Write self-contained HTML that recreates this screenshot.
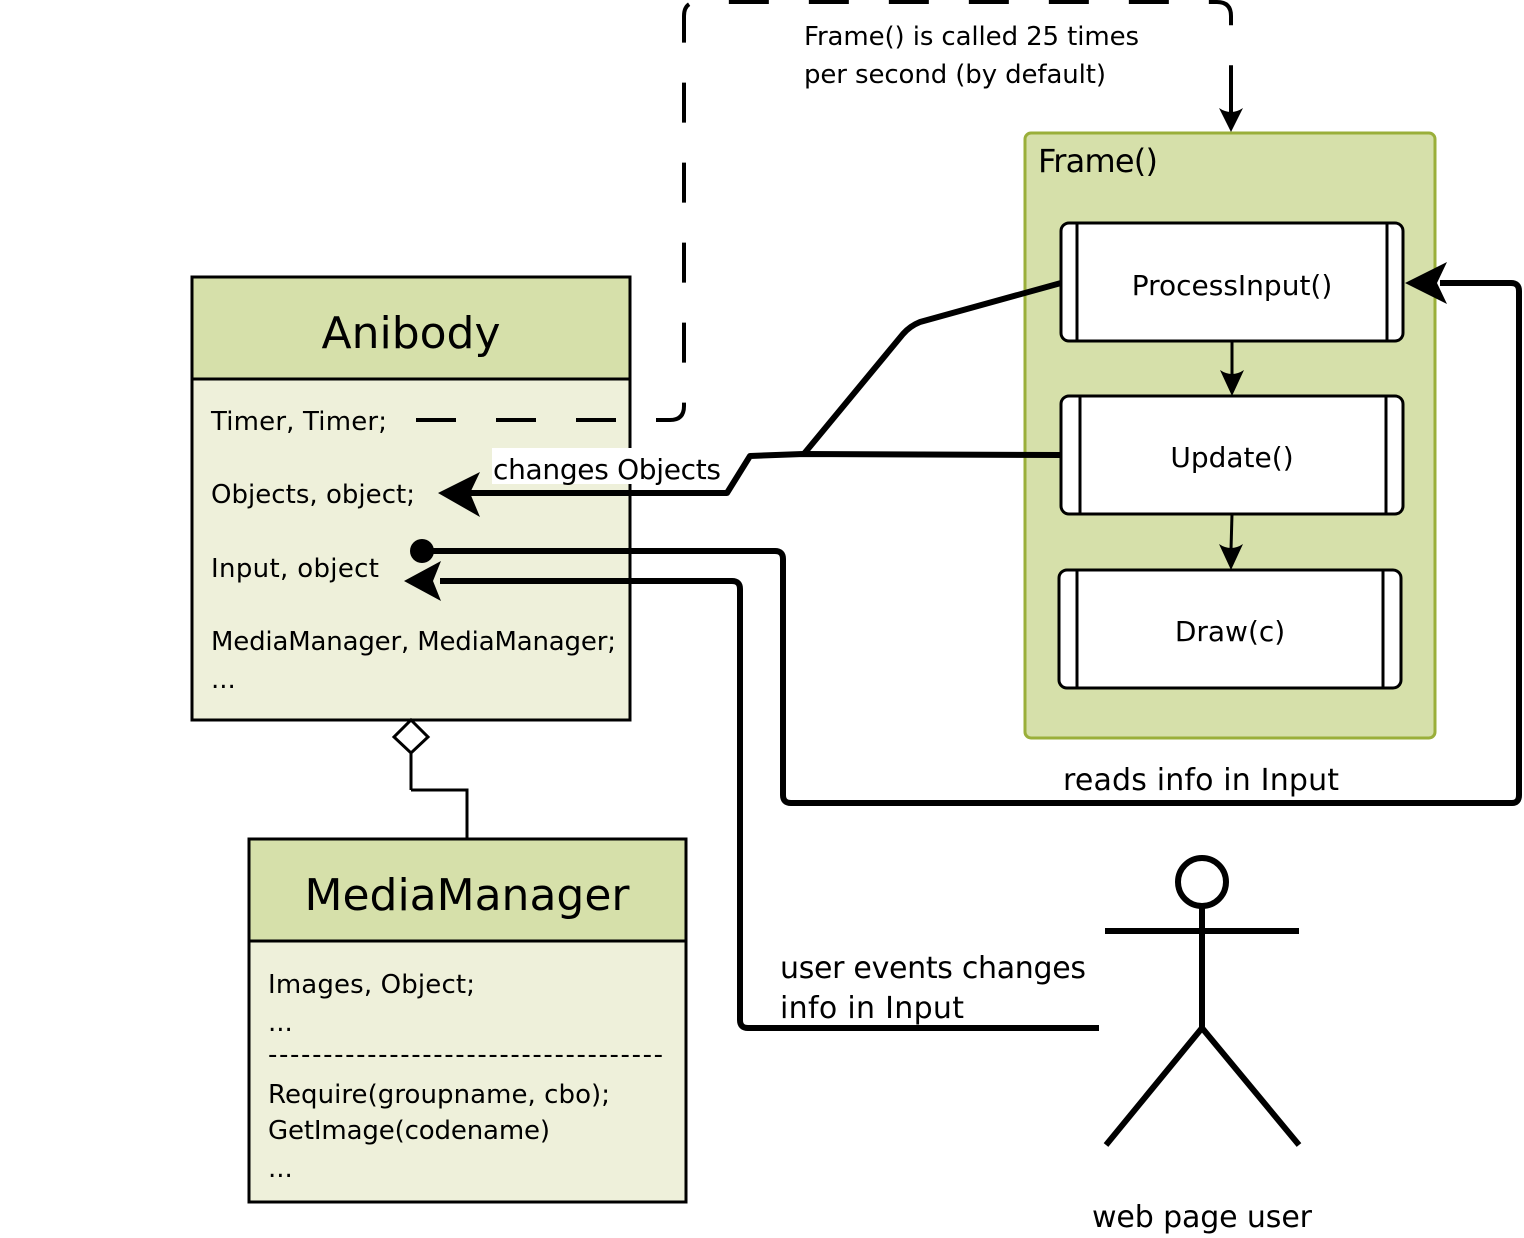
<!DOCTYPE html>
<html><head><meta charset="utf-8"><style>html,body{margin:0;padding:0;background:#fff}svg{display:block}text{font-family:"DejaVu Sans","Liberation Sans",sans-serif;fill:#000}</style></head>
<body>
<svg width="1524" height="1238" viewBox="0 0 1524 1238" xmlns="http://www.w3.org/2000/svg">
<text x="804" y="45" font-size="26" textLength="335">Frame() is called 25 times</text>
<text x="804" y="83" font-size="26" textLength="302">per second (by default)</text>
<!-- Frame container -->
<rect x="1025" y="133" width="410" height="605" rx="6" fill="#d6e0aa" stroke="#9aaf3a" stroke-width="3"/>
<text x="1038" y="172" font-size="32" textLength="120">Frame()</text>
<g stroke="#000" stroke-width="3" fill="#fff">
<rect x="1061" y="223" width="342" height="118" rx="8"/>
<line x1="1077" y1="223" x2="1077" y2="341"/><line x1="1387" y1="223" x2="1387" y2="341"/>
<rect x="1061" y="396" width="342" height="118" rx="8"/>
<line x1="1080" y1="396" x2="1080" y2="514"/><line x1="1386" y1="396" x2="1386" y2="514"/>
<rect x="1059" y="570" width="342" height="118" rx="8"/>
<line x1="1077" y1="570" x2="1077" y2="688"/><line x1="1383" y1="570" x2="1383" y2="688"/>
<line x1="1232" y1="341" x2="1232" y2="376"/><line x1="1232" y1="514" x2="1231" y2="550"/>
</g>
<path d="M1220,370 L1232,396 L1244,370 Q1232,378 1220,370 Z"/>
<path d="M1219,544 L1231,570 L1243,544 Q1231,552 1219,544 Z"/>
<text x="1232" y="295" font-size="28" text-anchor="middle">ProcessInput()</text>
<text x="1232" y="467" font-size="28" text-anchor="middle">Update()</text>
<text x="1230" y="641" font-size="28" text-anchor="middle">Draw(c)</text>
<!-- Anibody -->
<rect x="192" y="277" width="438" height="443" fill="#eef0da" stroke="#000" stroke-width="3"/>
<rect x="192" y="277" width="438" height="102" fill="#d6e0aa" stroke="#000" stroke-width="3"/>
<text x="411" y="348" font-size="44" text-anchor="middle">Anibody</text>
<g font-size="26">
<text x="211" y="430" textLength="176">Timer, Timer;</text>
<text x="211" y="503" textLength="204">Objects, object;</text>
<text x="211" y="577" textLength="168">Input, object</text>
<text x="211" y="650" textLength="405">MediaManager, MediaManager;</text>
<text x="211" y="688">...</text>
</g>
<!-- dashed loop -->
<path d="M416,420 L670,420 Q684,420 684,406 L684,16 Q684,2 698,2 L1217,2 Q1231,2 1231,16 L1231,104" fill="none" stroke="#000" stroke-width="4" stroke-dasharray="40,40"/>
<path d="M1231,96 L1231,120" stroke="#000" stroke-width="4"/>
<path d="M1219,108 L1231,132 L1243,108 Q1231,116 1219,108 Z"/>
<!-- connectors -->
<g fill="none" stroke="#000" stroke-width="6" stroke-linejoin="round">
<path d="M1061,283 L920,322 Q910,326 903,334 L803,455"/>
<path d="M1061,455 L803,454 L750,456 L727,493 L470,493"/>
<path d="M422,551 L775,551 Q783,551 783,559 L783,795 Q783,803 791,803 L1512,803 Q1519,803 1519,795 L1519,291 Q1519,283 1511,283 L1440,283"/>
<path d="M1099,1028 L748,1028 Q740,1028 740,1020 L740,589 Q740,581 732,581 L440,581"/>
</g>
<rect x="492" y="448" width="230" height="36" fill="#fff"/>
<text x="493" y="479" font-size="28" textLength="228">changes Objects</text>
<path d="M438,493 L480,472 L470,493 L480,517 Z"/>
<path d="M1405,283 L1447,262 L1437,283 L1447,304 Z"/>
<path d="M404,581 L441,561 L433,581 L441,601 Z"/>
<circle cx="422" cy="551" r="12"/>
<text x="1063" y="790" font-size="30" textLength="276">reads info in Input</text>
<text x="780" y="978" font-size="30" textLength="306">user events changes</text>
<text x="780" y="1018" font-size="30" textLength="184">info in Input</text>
<!-- aggregation -->
<path d="M411,790 L411,752 M411,790 L467,790 L467,839" fill="none" stroke="#000" stroke-width="3"/>
<path d="M411,720 L428,737 L411,753 L394,737 Z" fill="#fff" stroke="#000" stroke-width="3"/>
<!-- MediaManager -->
<rect x="249" y="839" width="437" height="363" fill="#eef0da" stroke="#000" stroke-width="3"/>
<rect x="249" y="839" width="437" height="102" fill="#d6e0aa" stroke="#000" stroke-width="3"/>
<text x="467" y="910" font-size="44" text-anchor="middle">MediaManager</text>
<g font-size="26">
<text x="268" y="993" textLength="207">Images, Object;</text>
<text x="268" y="1031">...</text>
<text x="268" y="1063" textLength="395">------------------------------------</text>
<text x="268" y="1103" textLength="342">Require(groupname, cbo);</text>
<text x="268" y="1139" textLength="282">GetImage(codename)</text>
<text x="268" y="1177">...</text>
</g>
<!-- actor -->
<g stroke="#000" stroke-width="6" fill="none">
<circle cx="1202" cy="882" r="24" fill="#fff"/>
<line x1="1202" y1="906" x2="1202" y2="1028"/>
<line x1="1105" y1="931" x2="1299" y2="931"/>
<path d="M1106,1145 L1202,1028 L1299,1145"/>
</g>
<text x="1202" y="1227" font-size="30" text-anchor="middle" textLength="220">web page user</text>
</svg>
</body></html>
